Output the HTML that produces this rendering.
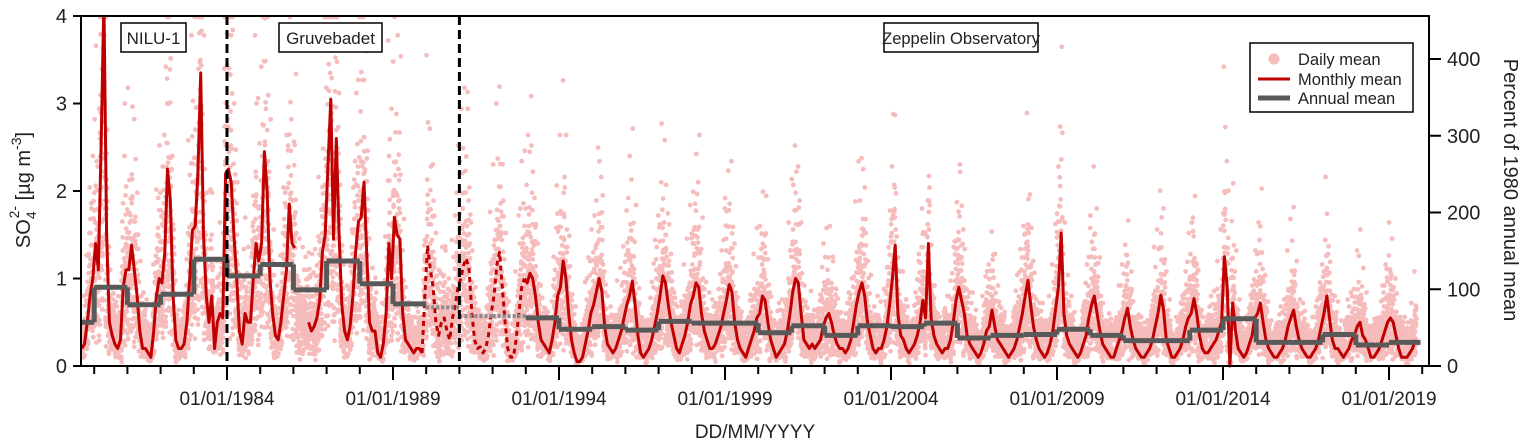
<!DOCTYPE html>
<html><head><meta charset="utf-8"><style>
html,body{margin:0;padding:0;background:#fff;}
svg{display:block;font-family:"Liberation Sans",Arial,sans-serif;}
</style></head><body>
<svg id="chart" width="1525" height="440" viewBox="0 0 1525 440" xmlns="http://www.w3.org/2000/svg">
<g id="daily"></g>
<g id="monthly"></g>
<g id="annual"></g>
<g id="axes"></g>
</svg>
<script>
// ---- data ----
const monthlyStartYear = 1979, monthlyStartMonth = 7; // Aug 1979 (0-based month)
const monthlyValues = [
 /*1979*/ 0.2,0.25,0.5,0.8,1.0,
 /*1980*/ 1.4,1.1,2.5,4.2,1.5,0.5,0.35,0.25,0.2,0.3,0.9,1.1,
 /*1981*/ 1.1,1.38,1.1,0.8,0.4,0.2,0.2,0.15,0.1,0.4,0.8,1.0,
 /*1982*/ 0.95,1.3,2.25,1.9,0.8,0.3,0.2,0.2,0.25,0.5,1.0,1.55,
 /*1983*/ 1.6,2.2,3.35,1.5,0.8,0.5,0.8,0.2,0.5,0.6,0.55,2.2,
 /*1984*/ 2.25,2.1,1.5,1.0,0.4,0.25,0.6,0.5,0.5,1.0,1.4,1.2,
 /*1985*/ 1.4,2.45,2.0,1.0,0.6,0.35,0.3,0.5,0.8,1.1,1.85,1.4,
 /*1986*/ 1.35,null,null,null,null,0.5,0.4,0.45,0.55,0.75,1.3,1.5,
 /*1987*/ 2.3,3.05,1.45,2.6,1.5,0.7,0.4,0.3,0.45,0.8,1.3,1.65,
 /*1988*/ 1.7,2.1,1.3,0.5,0.4,0.4,0.15,0.1,0.25,0.6,1.4,1.0,
 /*1989*/ 1.7,1.5,1.45,0.6,0.3,0.25,0.2,0.15,0.2,0.2,0.15,0.8,
 /*1990*/ 1.38,1.1,0.9,0.5,0.35,0.5,0.55,0.4,0.3,0.55,0.7,0.9,
 /*1991*/ 1.0,1.15,1.23,1.1,0.6,0.3,0.2,0.22,0.15,0.2,0.35,0.6,
 /*1992*/ 0.8,1.15,1.3,0.9,0.5,0.2,0.1,0.1,0.3,0.6,0.9,1.0,
 /*1993*/ 0.95,1.06,1.0,0.8,0.5,0.3,0.25,0.2,0.15,0.3,0.5,0.8,
 /*1994*/ 0.9,1.2,1.0,0.6,0.3,0.15,0.05,0.05,0.1,0.25,0.4,0.6,
 /*1995*/ 0.7,0.85,1.0,0.85,0.45,0.25,0.2,0.15,0.2,0.3,0.4,0.55,
 /*1996*/ 0.7,0.8,0.97,0.7,0.35,0.15,0.1,0.15,0.2,0.3,0.45,0.6,
 /*1997*/ 0.8,1.03,0.95,0.7,0.5,0.35,0.2,0.15,0.25,0.35,0.5,0.7,
 /*1998*/ 0.8,0.95,0.9,0.6,0.4,0.3,0.2,0.2,0.25,0.35,0.45,0.6,
 /*1999*/ 0.75,0.93,0.85,0.5,0.3,0.2,0.15,0.1,0.2,0.3,0.4,0.55,
 /*2000*/ 0.6,0.8,0.75,0.5,0.3,0.2,0.1,0.15,0.2,0.25,0.4,0.6,
 /*2001*/ 0.85,1.0,0.95,0.6,0.3,0.25,0.2,0.25,0.2,0.25,0.3,0.45,
 /*2002*/ 0.55,0.6,0.5,0.35,0.25,0.2,0.2,0.15,0.2,0.3,0.5,0.7,
 /*2003*/ 0.85,0.95,0.8,0.5,0.35,0.2,0.15,0.2,0.2,0.3,0.45,0.7,
 /*2004*/ 1.0,1.38,0.6,0.35,0.3,0.2,0.15,0.2,0.25,0.35,0.5,0.75,
 /*2005*/ 0.55,1.4,0.55,0.35,0.25,0.2,0.15,0.2,0.2,0.3,0.5,0.75,
 /*2006*/ 0.9,0.75,0.6,0.35,0.25,0.2,0.15,0.1,0.15,0.25,0.4,0.45,
 /*2007*/ 0.64,0.45,0.3,0.25,0.2,0.15,0.1,0.15,0.2,0.3,0.45,0.6,
 /*2008*/ 0.8,0.98,0.7,0.45,0.3,0.2,0.15,0.1,0.15,0.25,0.4,0.65,
 /*2009*/ 0.9,1.52,0.6,0.35,0.25,0.2,0.15,0.1,0.15,0.25,0.35,0.55,
 /*2010*/ 0.7,0.8,0.6,0.4,0.25,0.2,0.15,0.1,0.1,0.2,0.3,0.4,
 /*2011*/ 0.55,0.66,0.45,0.3,0.2,0.15,0.1,0.1,0.15,0.2,0.3,0.45,
 /*2012*/ 0.6,0.81,0.65,0.3,0.2,0.1,0.1,0.15,0.2,0.3,0.45,0.55,
 /*2013*/ 0.6,0.77,0.6,0.35,0.2,0.15,0.15,0.2,0.25,0.3,0.4,0.5,
 /*2014*/ 1.25,0.9,0.0,0.72,0.4,0.2,0.15,0.1,0.15,0.25,0.35,0.55,
 /*2015*/ 0.6,0.72,0.5,0.3,0.2,0.15,0.1,0.1,0.15,0.2,0.3,0.45,
 /*2016*/ 0.55,0.64,0.45,0.3,0.2,0.15,0.1,0.1,0.15,0.2,0.3,0.45,
 /*2017*/ 0.6,0.8,0.55,0.3,0.2,0.2,0.15,0.1,0.15,0.2,0.3,0.35,
 /*2018*/ 0.45,0.5,0.35,0.3,0.2,0.1,0.1,0.15,0.2,0.3,0.4,0.5,
 /*2019*/ 0.55,0.5,0.35,0.2,0.1,0.1,0.1,0.15,0.2,0.3
];
const annualYears = [1979,1980,1981,1982,1983,1984,1985,1986,1987,1988,1989,1990,1991,1992,1993,1994,1995,1996,1997,1998,1999,2000,2001,2002,2003,2004,2005,2006,2007,2008,2009,2010,2011,2012,2013,2014,2015,2016,2017,2018,2019];
const annualValues = [0.5,0.9,0.7,0.82,1.22,1.03,1.16,0.87,1.2,0.94,0.71,0.67,0.57,0.57,0.55,0.42,0.45,0.41,0.51,0.49,0.49,0.38,0.46,0.35,0.46,0.45,0.49,0.32,0.35,0.36,0.42,0.35,0.29,0.29,0.41,0.54,0.27,0.27,0.36,0.24,0.27];
const dottedStart = 1989.9, dottedEnd = 1993.0;
const stationBreaks = [1984.0, 1991.0];
const leftTicks = [0,1,2,3,4];
const rightTicks = [0,100,200,300,400];
const majorYears = [1984,1989,1994,1999,2004,2009,2014,2019];
const spreadFactors = [0.3,0.5,0.7,0.4,0.9,1.1,0.6,0.2,1.3,0.8,0.35,1.0,1.8,0.55,0.75,0.45,1.0,0.25,1.5,0.65,0.9,0.15,1.2,0.5,2.4,0.7,0.4,1.3,0.85,0.3,0.6];
const baseOffsets = [0.05,0.25,0.12,0.35,0.0,0.2,0.3,0.08,0.4,0.15,0.25,0.06,0.45,0.1,0.32];

// ---- scales ----
const X0=1979.62, X1=2020.22, PL=81, PR=1429, PT=16, PB=366;
const xs = t => 227 + (t-1984)*33.2;
const ys = v => PB - v*(PB-PT)/4;
const yPct = p => PB - p*(PB-59)/400;
const NS="http://www.w3.org/2000/svg";
function mk(tag, attrs, parent){const e=document.createElementNS(NS,tag);for(const k in attrs)e.setAttribute(k,attrs[k]);parent.appendChild(e);return e;}
const gD=document.getElementById('daily'), gM=document.getElementById('monthly'), gA=document.getElementById('annual'), gX=document.getElementById('axes');
const svg=document.getElementById('chart');
const cp=mk('clipPath',{id:'clip'},svg);
mk('rect',{x:PL,y:PT,width:PR-PL,height:PB-PT+3},cp);
gD.setAttribute('clip-path','url(#clip)');gM.setAttribute('clip-path','url(#clip)');

const times = monthlyValues.map((v,i)=>{const m=monthlyStartMonth+i;return monthlyStartYear+Math.floor(m/12)+((m%12)+0.5)/12;});

// daily points
let d='';
monthlyValues.forEach((v,i)=>{
  const mv = v==null ? 0.5 : v;
  for(let j=0;j<30;j++){
    const t = times[i] - 0.5/12 + (j+0.5)/360;
    if(t<X0||t>X1) continue;
    const val = mv*spreadFactors[(j*7+i*3)%spreadFactors.length] + baseOffsets[(j*5+i)%baseOffsets.length]*(mv>0.7?1.2:0.8);
    const x=xs(t), y=Math.max(ys(val),PT+1);
    d+=`M${(x-2.4).toFixed(1)} ${y.toFixed(1)}a2.4 2.4 0 1 0 4.8 0a2.4 2.4 0 1 0 -4.8 0`;
  }
});
const dp=mk('path',{d:d,fill:'#f6bcbc'},gD);



// monthly line segments
let seg=[], segDotted=null;
function flush(){ if(seg.length>1){const p=mk('polyline',{points:seg.map(q=>q.join(',')).join(' '),fill:'none',stroke:'#c00000','stroke-width':3,'stroke-linejoin':'round','stroke-dasharray':segDotted?'5 4':'none'},gM);
 
 } seg=[]; }
monthlyValues.forEach((v,i)=>{
  if(v==null){flush();return;}
  const dot = times[i]>dottedStart && times[i]<dottedEnd;
  if(segDotted!==null && dot!==segDotted){const last=seg[seg.length-1];flush();if(last)seg.push(last);}
  segDotted=dot;
  seg.push([xs(times[i]).toFixed(1),ys(v).toFixed(1)]);
});
flush();

// annual steps
annualYears.forEach((yr,i)=>{
  const a=Math.max(yr,X0), b=Math.min(yr+1,2019.95);
  const dot = yr>=1990 && yr<=1992;
  const l=mk('line',{x1:xs(a),x2:xs(b),y1:ys(annualValues[i]),y2:ys(annualValues[i]),stroke:dot?'#8a8a8a':'#595959','stroke-width':dot?4:5,'stroke-dasharray':dot?'3 2':'none'},gA);
  
  
  if(i>0 && !dot && !(annualYears[i-1]>=1990&&annualYears[i-1]<=1992)){
    const v=mk('line',{x1:xs(yr),x2:xs(yr),y1:ys(annualValues[i-1]),y2:ys(annualValues[i]),stroke:'#595959','stroke-width':5},gA);
    
    
  }
});

stationBreaks.forEach(t=>{
  const l=mk('line',{x1:xs(t),x2:xs(t),y1:PT,y2:PB,stroke:'#000','stroke-width':3,'stroke-dasharray':'9 5'},gX);
  
  
});

const fr=mk('rect',{x:PL,y:PT,width:PR-PL,height:PB-PT,fill:'none',stroke:'#000','stroke-width':2},gX);



leftTicks.forEach(v=>{
  mk('line',{x1:PL-8,x2:PL,y1:ys(v),y2:ys(v),stroke:'#000','stroke-width':2},gX);
  const t=mk('text',{x:PL-14,y:ys(v)+7,'text-anchor':'end','font-size':20,fill:'#222'},gX);t.textContent=v;
  
  
});
rightTicks.forEach(p=>{
  mk('line',{x1:PR,x2:PR+12,y1:yPct(p),y2:yPct(p),stroke:'#000','stroke-width':2},gX);
  const t=mk('text',{x:PR+18,y:yPct(p)+7,'font-size':20,fill:'#222'},gX);t.textContent=p;
  
  
});
for(let yr=1980;yr<=2020;yr++){
  if(xs(yr)>PR) break;
  const maj=majorYears.includes(yr);
  mk('line',{x1:xs(yr),x2:xs(yr),y1:PB,y2:PB+(maj?14:8),stroke:'#000','stroke-width':2},gX);
  if(maj){const t=mk('text',{x:xs(yr),y:405,'text-anchor':'middle','font-size':19,fill:'#222'},gX);t.textContent='01/01/'+yr;
    
    }
}
</script>
<svg style="position:absolute;left:0;top:0" width="1525" height="440">
 <text x="755" y="438" text-anchor="middle" font-size="19" fill="#222">DD/MM/YYYY</text>
 <text transform="translate(30,190) rotate(-90)" text-anchor="middle" font-size="20" fill="#222">SO<tspan font-size="14" dy="6">4</tspan><tspan font-size="14" dy="-17" dx="-7">2-</tspan><tspan dy="11"> [µg m</tspan><tspan font-size="14" dy="-9">-3</tspan><tspan dy="9">]</tspan></text>
 <text transform="translate(1504,190) rotate(90)" text-anchor="middle" font-size="20" fill="#222">Percent of 1980 annual mean</text>
 <g><rect x="121" y="23" width="65" height="29" fill="#fff" stroke="#000" stroke-width="1.5"/><text x="153.5" y="44" text-anchor="middle" font-size="17" fill="#222">NILU-1</text></g>
 <g><rect x="279" y="23" width="103" height="29" fill="#fff" stroke="#000" stroke-width="1.5"/><text x="330.5" y="44" text-anchor="middle" font-size="17" fill="#222">Gruvebadet</text></g>
 <g><rect x="884" y="23" width="154" height="29" fill="#fff" stroke="#000" stroke-width="1.5"/><text x="961" y="44" text-anchor="middle" font-size="16.5" fill="#222">Zeppelin Observatory</text></g>
 <g>
  <rect x="1250" y="43" width="163" height="69" fill="#fff" stroke="#000" stroke-width="1.5"/>
  <circle cx="1274" cy="59" r="5.5" fill="#f6bcbc"/><text x="1298" y="65" font-size="16.5" fill="#222">Daily mean</text>
  <line x1="1258" y1="79" x2="1290" y2="79" stroke="#c00000" stroke-width="3"/><text x="1298" y="85" font-size="16.5" fill="#222">Monthly mean</text>
  <line x1="1258" y1="98" x2="1290" y2="98" stroke="#595959" stroke-width="5"/><text x="1298" y="104" font-size="16.5" fill="#222">Annual mean</text>
 </g>
</svg>
</body></html>
